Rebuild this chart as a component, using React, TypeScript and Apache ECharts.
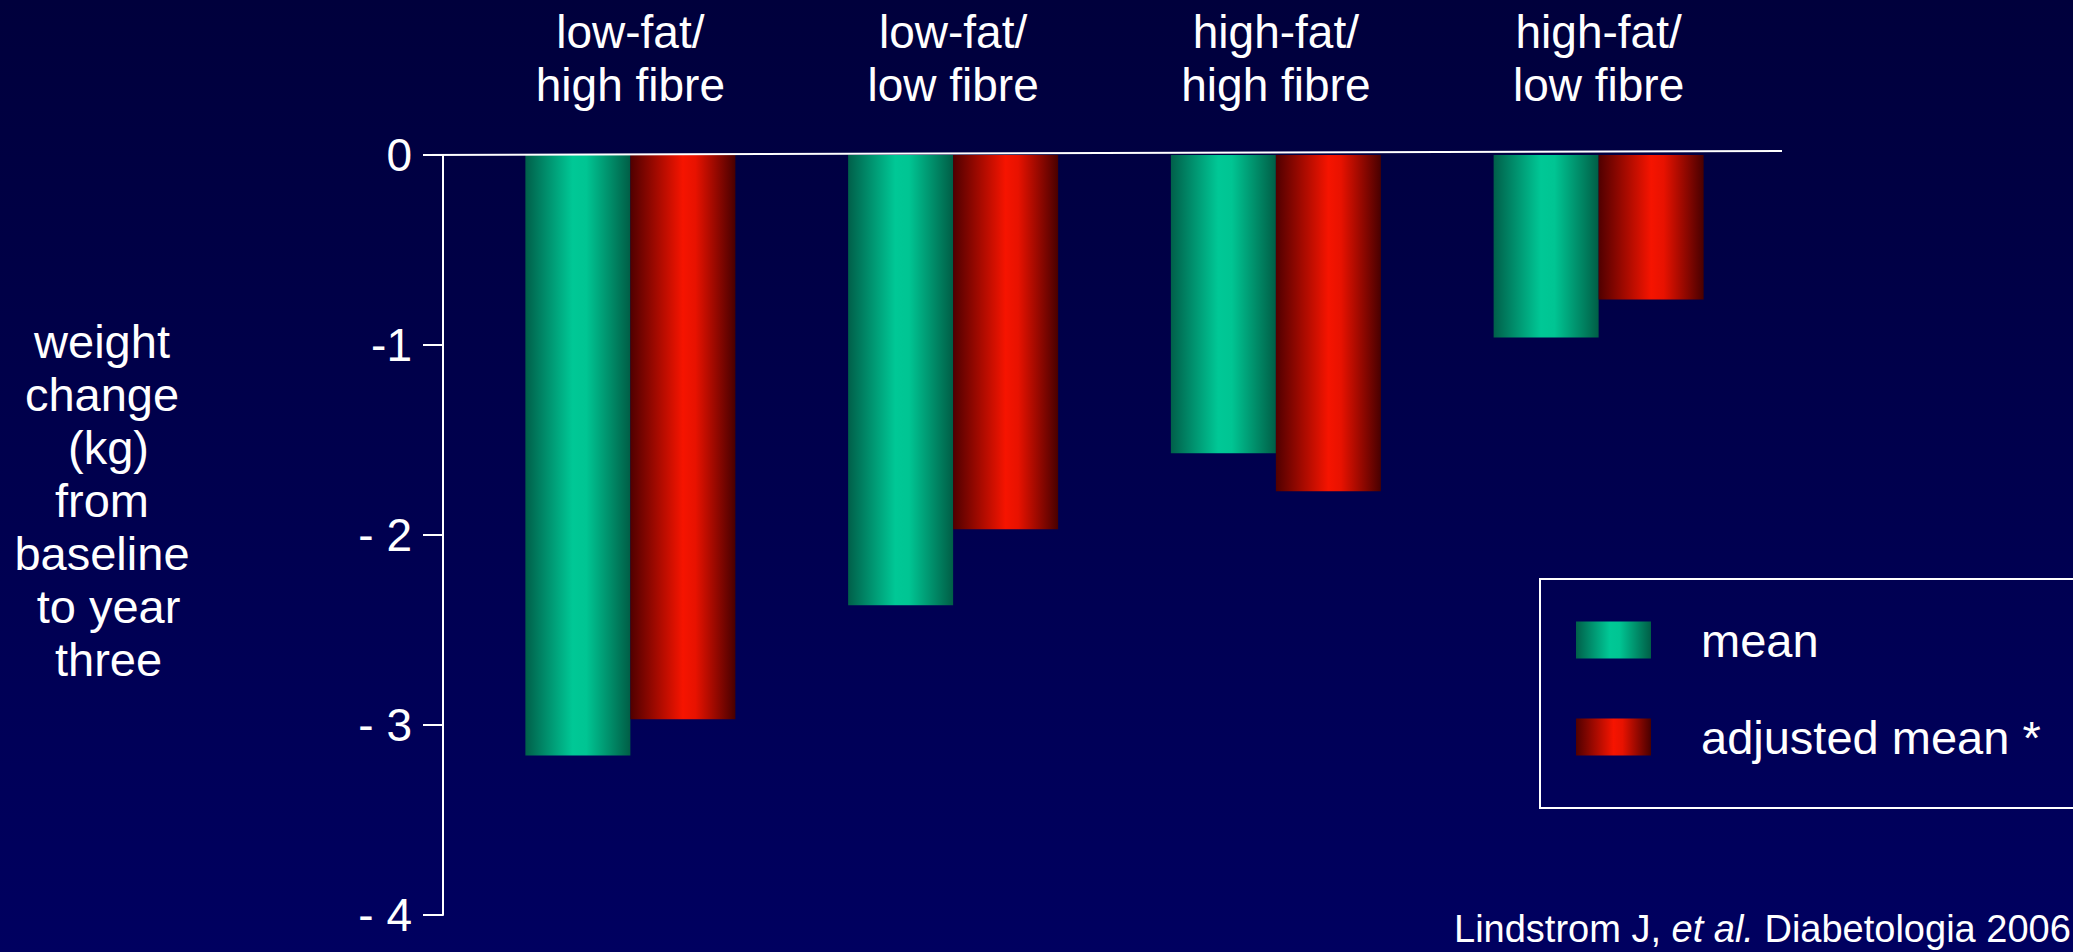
import React, { useEffect, useRef } from "react";
import * as echarts from "echarts";

const categories = ["low-fat/\nhigh fibre", "low-fat/\nlow fibre", "high-fat/\nhigh fibre", "high-fat/\nlow fibre"];
const meanValues = [-3.16, -2.37, -1.57, -0.96];
const adjustedValues = [-2.97, -1.97, -1.77, -0.76];
const seriesNames = ["mean", "adjusted mean *"];
const yTicks = [0, -1, -2, -3, -4];
const yTickLabels = ["0", "-1", "- 2", "- 3", "- 4"];
const yAxisTitle = "weight\nchange\n (kg)\nfrom\nbaseline\n to year\n three";
const citationParts = ["Lindstrom J, ", "et al.", " Diabetologia 2006"];

const FONT = "'Liberation Sans', Arial, Helvetica, sans-serif";

const greenGrad = () =>
  new echarts.graphic.LinearGradient(0, 0, 1, 0, [
    { offset: 0, color: "#00604A" },
    { offset: 0.45, color: "#00C896" },
    { offset: 0.58, color: "#00C593" },
    { offset: 1, color: "#005E46" },
  ]);
const redGrad = () =>
  new echarts.graphic.LinearGradient(0, 0, 1, 0, [
    { offset: 0, color: "#500000" },
    { offset: 0.5, color: "#F61400" },
    { offset: 0.62, color: "#E81200" },
    { offset: 1, color: "#480000" },
  ]);

export default function App() {
  const ref = useRef<HTMLDivElement>(null);
  useEffect(() => {
    if (!ref.current) return;
    const chart = echarts.init(ref.current, null, { renderer: "svg" });
    chart.setOption({
      animation: false,
      backgroundColor: "transparent",
      textStyle: { fontFamily: FONT },
      grid: { left: 469, right: 313, top: 155, height: 760, containLabel: false },
      xAxis: {
        type: "category",
        position: "top",
        data: categories,
        axisLine: { show: false },
        axisTick: { show: false },
        axisLabel: {
          color: "#ffffff",
          fontSize: 46,
          lineHeight: 53,
          margin: 44,
          fontFamily: FONT,
          interval: 0,
        },
      },
      yAxis: {
        type: "value",
        min: -4,
        max: 0,
        interval: 1,
        offset: 26,
        axisLine: { show: true, lineStyle: { color: "#ffffff", width: 2 } },
        axisTick: { show: true, length: 20, lineStyle: { color: "#ffffff", width: 2 } },
        splitLine: { show: false },
        axisLabel: {
          color: "#ffffff",
          fontSize: 46,
          margin: 31,
          fontFamily: FONT,
          formatter: (v: number) => {
            const i = yTicks.indexOf(v);
            return i >= 0 ? yTickLabels[i] : String(v);
          },
        },
      },
      legend: {
        orient: "vertical",
        left: 1540,
        top: 579,
        padding: [36, 200, 46, 36],
        borderColor: "#ffffff",
        borderWidth: 2,
        itemWidth: 75,
        itemHeight: 37,
        itemGap: 47,
        icon: "rect",
        textStyle: {
          color: "#ffffff",
          fontSize: 47,
          lineHeight: 50,
          padding: [0, 0, 0, 45],
          fontFamily: FONT,
        },
        data: seriesNames,
      },
      series: [
        {
          name: seriesNames[0],
          type: "bar",
          data: meanValues,
          barWidth: 105,
          barGap: "0%",
          itemStyle: { color: greenGrad() },
        },
        {
          name: seriesNames[1],
          type: "bar",
          data: adjustedValues,
          barWidth: 105,
          barGap: "0%",
          itemStyle: { color: redGrad() },
        },
      ],
      graphic: [
        {
          type: "line",
          z: 100,
          shape: { x1: 423, y1: 155, x2: 1782, y2: 151 },
          style: { stroke: "#ffffff", lineWidth: 2 },
        },
        {
          type: "text",
          x: 102,
          y: 500,
          style: {
            text: yAxisTitle,
            fill: "#ffffff",
            fontSize: 47,
            lineHeight: 53,
            fontFamily: FONT,
            align: "center",
            verticalAlign: "middle",
          },
        },
        {
          type: "text",
          x: 1454,
          y: 929,
          style: {
            text: `{a|${citationParts[0]}}{b|${citationParts[1]}}{a|${citationParts[2]}}`,
            verticalAlign: "middle",
            rich: {
              a: { fill: "#ffffff", fontSize: 38, fontFamily: FONT },
              b: { fill: "#ffffff", fontSize: 38, fontStyle: "italic", fontFamily: FONT },
            },
          },
        },
      ],
    });
    return () => chart.dispose();
  }, []);
  return (
    <div
      ref={ref}
      style={{
        position: "absolute",
        left: 0,
        top: 0,
        width: 2073,
        height: 952,
        background: "linear-gradient(to bottom, #00003C 0%, #000060 100%)",
      }}
    />
  );
}
